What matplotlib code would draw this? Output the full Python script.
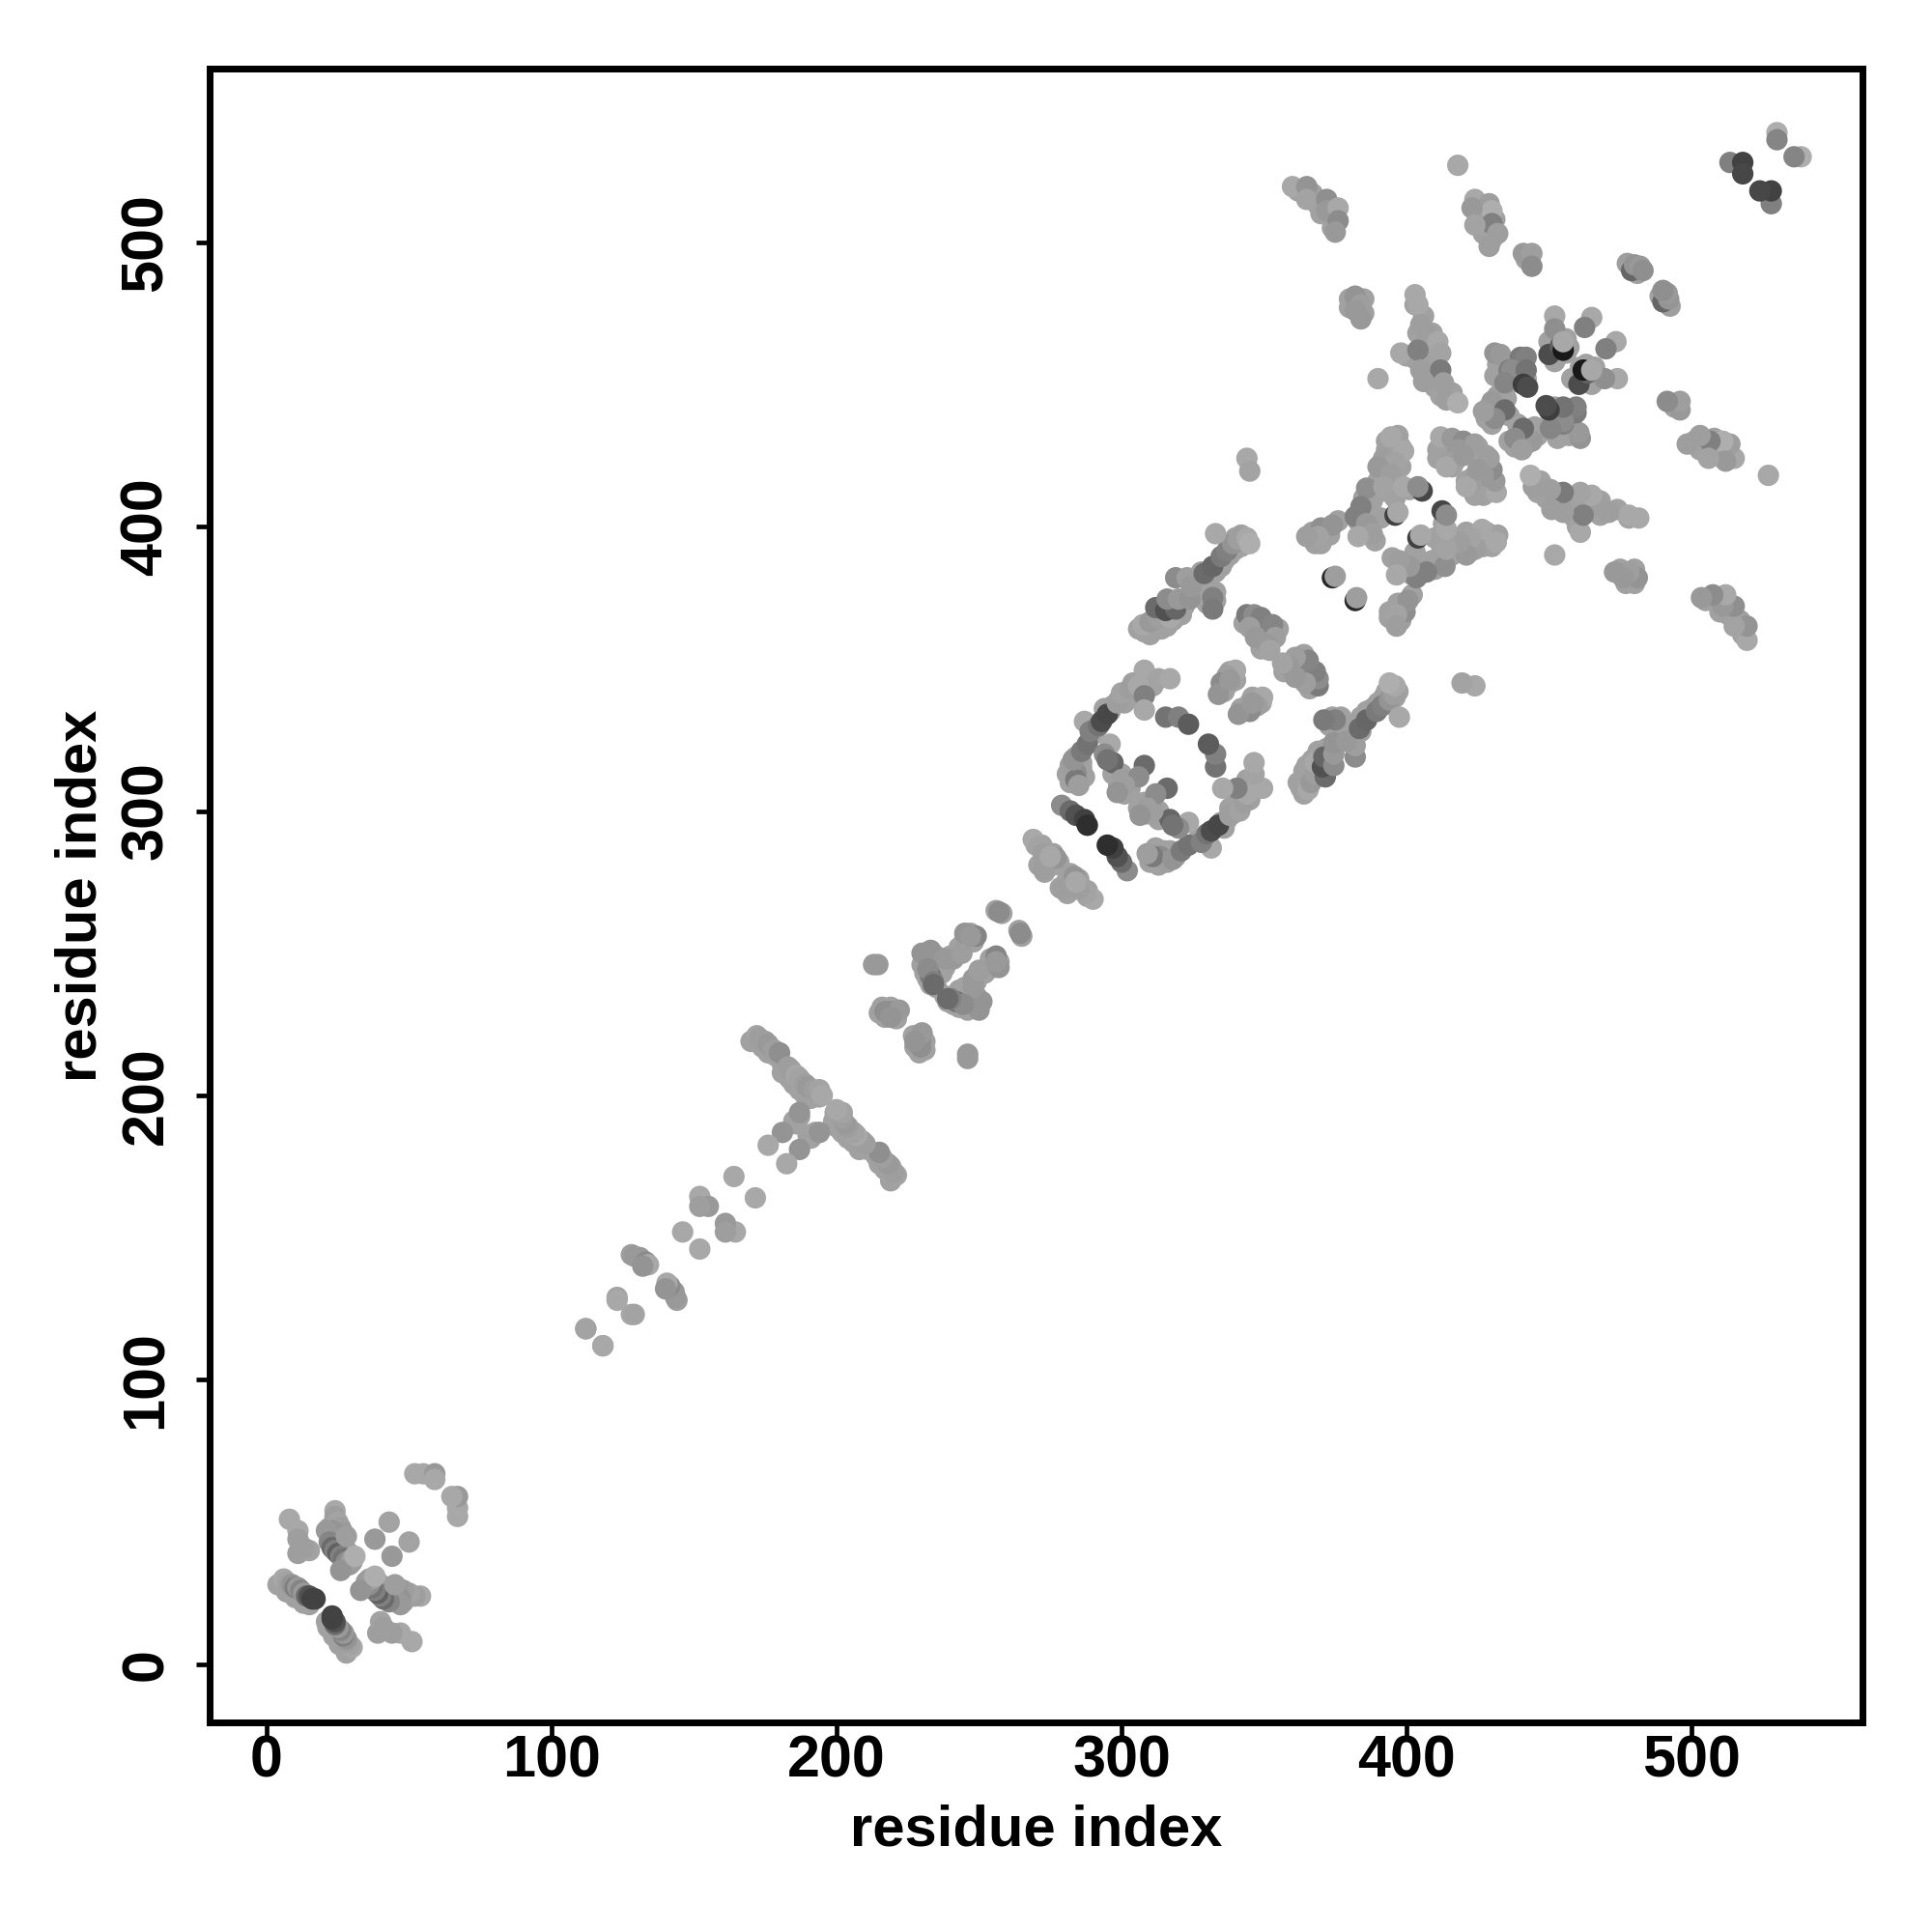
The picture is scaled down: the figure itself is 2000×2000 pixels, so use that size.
import numpy as np
import matplotlib
matplotlib.use("Agg")
import matplotlib.pyplot as plt

plt.rcParams['font.family'] = ['Liberation Sans', 'DejaVu Sans']

### contacts, one side of the diagonal only (map is symmetric) ###

res_i = [
    6, 7, 8, 9, 10, 11, 12, 13, 14, 15, 16, 17,
    8, 11, 11, 11, 15, 13,
    24, 24, 25, 26, 27, 23, 21, 22, 23, 24, 25, 26, 27, 28, 29, 30, 26, 31, 28,
    38, 43,
    52, 55, 59, 59,
    112, 118, 123, 128,
    128, 129, 131, 133, 134, 132,
    146, 152, 155, 152, 164,
    172, 173, 175, 176, 178, 180, 183, 184, 186, 187, 189, 190, 192, 194, 195,
    187, 181, 176,
    213, 214.5,
    217, 219, 222, 219,
    230, 233, 238, 233, 232, 234, 234, 241, 244, 245, 249, 247,
    257,
    269, 271, 272.5, 277, 272.5, 275,
    279, 282, 284, 287, 288,
    284, 282, 284, 285, 283, 286, 288, 287, 289, 292, 293, 295, 298.5, 300, 303, 306, 308, 308, 308, 313, 317,
    296, 294, 297, 295, 300, 308, 306, 301, 298.5,
    315.5, 320, 323.5,
    340, 337, 335, 334, 338,
    344, 346.5, 349, 353, 354, 351, 345, 347, 352,
    307.5, 310, 313, 317, 312, 315.5, 319, 316, 320, 324, 319, 323, 324.5, 329, 332, 335, 337, 339, 341, 344, 345, 333, 332, 332,
    344, 345,
    530, 530, 513.5, 518, 518,
    418,
    360, 365, 365, 372, 372, 376, 376, 375,
    424, 429, 430, 423, 430, 424, 432, 429, 441, 444, 444,
    477.5, 479, 480, 482, 483,
    382, 384, 382, 384,
    403, 404, 405, 407.5, 411, 412, 398, 404, 405, 412, 406, 413, 414, 418,
    390,
    431, 433, 436, 440, 442, 437, 442, 434.5, 441, 442.5,
    452, 452, 450, 454, 455, 455, 465, 462.5,
    430, 434.5, 431, 427,
    412, 416, 420, 424, 418, 415, 414, 420,
    394.5, 399, 392, 396, 390, 394.5, 386, 392, 399, 405.5, 404, 384, 382, 386, 388, 383, 396, 397,
    370, 374, 369, 365,
    374, 375,
]
res_j = [
    30, 29, 28, 28, 27, 27, 26, 25, 24, 24, 23, 23,
    51, 47, 44, 39, 40, 41,
    54, 52, 50, 48, 46, 47, 47, 43, 41, 40, 39, 38, 37, 36, 35, 37, 33, 38, 45,
    44, 50,
    67, 67, 67, 65,
    118, 112, 129, 123,
    144, 143.5, 143, 141.5, 140.5, 140,
    152, 164.5, 161, 161, 171.5,
    221, 220, 219, 218, 216, 215, 210, 209, 207, 206, 204, 203, 202, 202, 200,
    194, 187, 182.5,
    246, 246,
    229.5, 229.5, 230, 227.5,
    250, 251, 248, 242, 244.5, 240, 239, 248, 250, 257, 256, 256,
    264.5,
    290, 287.5, 285, 283.5, 279.5, 284,
    302, 300, 298.5, 297, 295,
    313.5, 316, 311, 309, 318, 321, 323.5, 331.5, 328, 330, 331.5, 334, 338, 341.5, 343, 344, 349.5, 340.5, 335.5, 346.5, 346.5,
    323.5, 320, 317, 318, 311, 316, 312, 309, 306.5,
    333, 333, 330.5,
    349.5, 347.5, 345, 341, 346,
    369, 369, 368, 365.5, 361, 358.5, 364.5, 361, 356.5,
    365.5, 366.5, 368, 368, 371.5, 370.5, 371, 374.5, 374.5, 374.5, 382, 382, 379, 383.5, 386, 389.5, 391.5, 394, 395.5, 396, 394, 397.5, 375, 371,
    424, 419.5,
    538.5, 536, 528, 528, 524,
    527,
    519.5, 519.5, 515, 515, 511, 512, 507.5, 503.5,
    515, 513.5, 511, 512, 506.5, 506, 503, 498.5, 496, 496, 491.5,
    492.5, 490, 492, 491.5, 490,
    481, 478, 476, 473,
    481.5, 478, 471, 467, 465, 461, 461, 462, 455, 455, 451, 450.5, 444.5, 443.5,
    452,
    461, 460.5, 455, 459.5, 459.5, 455, 455, 450.5, 450, 449,
    474, 469.5, 460.5, 463.5, 462, 465, 473.5, 470,
    444, 441, 438, 440.5,
    431.5, 431, 430, 429, 427, 422.5, 421, 425,
    431.5, 426.5, 424, 422.5, 421, 418.5, 413.5, 414, 414, 412.5, 414, 407, 403.5, 401, 397.5, 396.5, 404, 405,
    399.5, 400.5, 396.5, 396.5,
    382, 382.5,
]
grey = [
    .66, .64, .62, .58, .5, .6, .52, .6, .42, .32, .26, .26,
    .66, .66, .62, .62, .64, .62,
    .66, .62, .64, .62, .6, .58, .6, .52, .42, .5, .38, .5, .45, .55, .6, .62, .58, .68, .62,
    .6, .64,
    .66, .66, .6, .66,
    .66, .64, .64, .66,
    .62, .6, .6, .55, .66, .58,
    .66, .66, .6, .62, .66,
    .64, .62, .62, .6, .62, .56, .62, .62, .66, .64, .62, .6, .62, .64, .66,
    .58, .58, .66,
    .6, .6,
    .56, .56, .6, .58,
    .58, .58, .6, .45, .55, .5, .42, .6, .62, .58, .52, .6,
    .55,
    .66, .64, .62, .58, .62, .66,
    .55, .42, .32, .25, .18,
    .55, .62, .48, .62, .58, .48, .45, .66, .5, .45, .3, .28, .62, .64, .62, .66, .66, .5, .66, .64, .66,
    .66, .55, .4, .45, .62, .42, .55, .62, .58,
    .45, .5, .36,
    .66, .62, .55, .58, .6,
    .48, .55, .5, .52, .62, .6, .62, .6, .64,
    .66, .6, .62, .66, .42, .32, .4, .55, .6, .58, .55, .62, .6, .42, .4, .48, .5, .58, .62, .66, .68, .66, .5, .48,
    .66, .64,
    .68, .52, .5, .26, .28,
    .66,
    .66, .58, .64, .56, .6, .66, .55, .6,
    .66, .62, .68, .6, .5, .64, .62, .62, .6, .62, .55,
    .62, .4, .58, .6, .56,
    .58, .62, .6, .6,
    .66, .66, .62, .62, .66, .64, .66, .5, .62, .48, .62, .62, .62, .68,
    .66,
    .58, .6, .5, .48, .5, .55, .45, .52, .24, .3,
    .66, .56, .3, .38, .1, .66, .66, .5,
    .6, .42, .55, .62,
    .66, .6, .55, .62, .6, .62, .66, .6,
    .66, .66, .62, .64, .6, .62, .56, .64, .66, .28, .55, .5, .5, .6, .62, .66, .25, .66,
    .56, .58, .64, .62,
    .15, .62,
]

### weaker contacts, drawn first so the ones above sit on top ###

under_i = [
    4, 7, 10, 13, 15,
    22, 24, 25, 24, 26, 27, 28, 29, 30, 27,
    170, 174, 176, 178.5, 181, 181, 183.5, 185, 187, 189, 191, 194, 187, 185, 186,
    215, 217, 220, 221, 216, 219,
    231, 230, 231, 232, 233, 235, 237, 235, 236, 238, 240, 243, 245, 247, 248, 243, 256, 258,
    270, 272, 273, 274, 276, 278, 271, 273, 274, 276,
    281, 282, 286, 283, 284, 286, 287, 290, 291, 294, 296, 297, 299, 301, 301, 304, 305, 307, 307, 309, 311, 304,
    297, 299, 300, 302, 301, 303,
    306, 308, 310, 312, 314, 316, 318, 321, 322, 326, 327, 328, 330, 331, 333, 335, 336, 338, 340, 342, 342, 340, 338, 333, 330, 333,
    343, 346, 348, 350, 350, 349, 353, 355,
    336, 338, 336, 340, 338,
    362, 367, 369, 373, 374, 370,
    426, 425, 427, 427, 431, 428, 430, 442, 481,
    380, 380, 385, 385,
    403, 406, 404, 406, 409, 409, 400, 403, 407, 410, 412, 410, 414, 416, 412, 408,
    432, 434, 436, 438, 439, 438, 442, 433, 431,
    450, 452, 456, 453, 457, 456, 453,
    429, 432, 435, 433, 436, 428, 430,
    413, 411, 413, 416, 419, 417, 421, 423, 425, 411, 416, 416,
    393, 397, 398, 393, 397, 391, 394, 398, 393, 390, 388, 390, 388, 385, 384, 386, 388, 383, 386, 389, 391, 394, 396, 395, 401,
    367, 371, 372, 376, 368, 370, 373,
]
under_j = [
    28, 25.5, 23.5, 21.5, 21,
    48, 46, 44, 42, 42, 41, 40, 39, 36, 35,
    219, 217, 215, 214, 211, 208, 206, 204, 202, 200, 199, 199.5, 192.5, 191, 190,
    229, 227.5, 228, 227, 231, 231,
    249, 246, 243, 241, 239, 238, 243, 249, 246, 245, 249, 250, 255, 257, 254, 252, 265, 264,
    288, 288, 286, 283, 285, 282, 281, 278.5, 280, 281,
    313, 310, 315, 317, 319, 317, 312, 327, 329, 336, 335, 337, 339, 338, 341, 340, 342, 343, 346, 345, 344, 345,
    313, 309, 313, 310, 306, 308,
    364, 363, 362, 365, 364, 365, 367, 369, 372, 377, 380, 384, 381, 384, 384, 386, 388, 390, 392, 393, 397, 396, 394, 374, 373, 377,
    366, 365, 364, 363, 360, 357, 363, 364,
    344, 345, 342, 346, 349,
    518, 517, 513, 509, 505, 510,
    513, 509, 507, 503, 508, 504, 501, 494, 489,
    480, 477, 480, 475,
    478, 474, 468, 464, 468, 463, 460, 459, 458, 457, 452, 449, 448, 447, 446, 453,
    457, 453, 452, 458, 455, 451, 452, 458, 453,
    465, 458, 461, 460, 463, 466, 467,
    442, 446, 445, 440, 439, 438, 436,
    429, 427, 425, 428, 426, 423, 428, 426, 428, 424, 421, 423,
    430, 432, 428, 427, 424, 422, 421, 421, 416, 416, 411, 412, 409, 410, 405, 405, 403, 402, 398, 395, 403, 412, 410, 414, 413,
    398, 397, 399, 402, 394, 394, 397,
]
under_grey = 0.63

tick_vals = [0, 100, 200, 300, 400, 500]

x = under_i + under_j + res_i + res_j
y = under_j + under_i + res_j + res_i
c = [under_grey] * (2 * len(under_i)) + grey + grey

fig = plt.figure(figsize=(20, 20), dpi=100)
ax = fig.add_axes([217 / 2000, 1 - 1783 / 2000, (1928 - 217) / 2000, (1783 - 71) / 2000])
ax.scatter(x, y, c=c, cmap='gray', vmin=0, vmax=1, s=255, linewidths=0)

ax.set_xlim(-20, 560)
ax.set_ylim(-20.4, 561)
ax.set_xticks(tick_vals)
ax.set_yticks(tick_vals)
ax.tick_params(axis='both', length=10, width=3.4, labelsize=44, pad=-1)
ax.tick_params(axis='y', labelrotation=90, pad=16)
for lab in ax.get_xticklabels() + ax.get_yticklabels():
    lab.set_fontweight('bold')
for lab in ax.get_yticklabels():
    lab.set_va('center')
for s in ax.spines.values():
    s.set_linewidth(5)

ax.set_xlabel('residue index', fontsize=43, fontweight='bold', labelpad=10.5)
ax.set_ylabel('residue index', fontsize=43, fontweight='bold', labelpad=9)

fig.savefig('out.png', dpi=100)
